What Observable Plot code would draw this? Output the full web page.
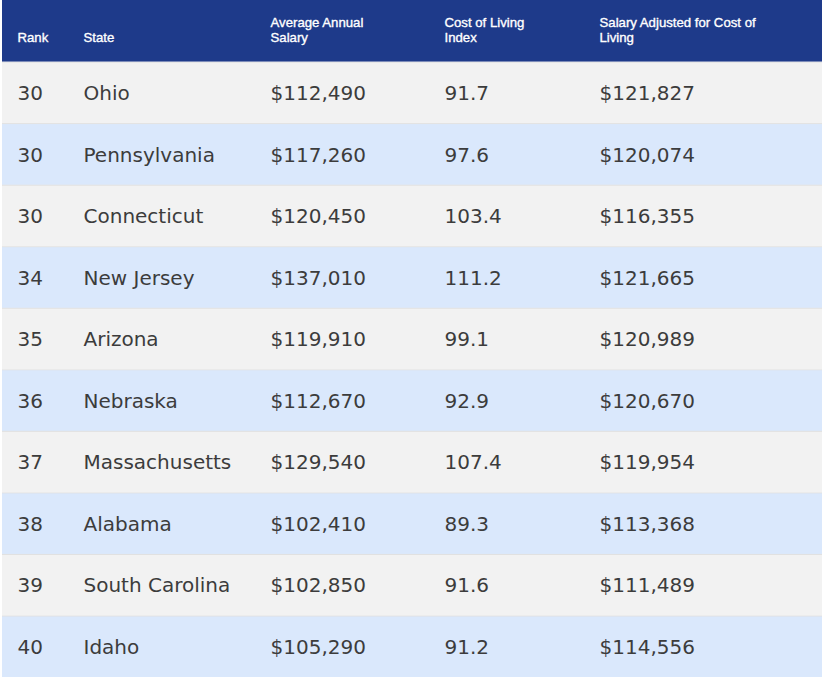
<!DOCTYPE html>
<html><head><meta charset="utf-8">
<script src="https://cdn.jsdelivr.net/npm/d3@7"></script>
<script src="https://cdn.jsdelivr.net/npm/@observablehq/plot@0.6"></script>
<style>html,body{margin:0;padding:0;background:#fff}svg{display:block}</style>
</head><body><div id="chart"></div>
<script>
// ---- data ----
const headers = ["Rank", "State", "Average Annual\nSalary", "Cost of Living\nIndex", "Salary Adjusted for Cost of\nLiving"];
const ranks = [30, 30, 30, 34, 35, 36, 37, 38, 39, 40];
const states = ["Ohio", "Pennsylvania", "Connecticut", "New Jersey", "Arizona", "Nebraska", "Massachusetts", "Alabama", "South Carolina", "Idaho"];
const avgSalary = [112490, 117260, 120450, 137010, 119910, 112670, 129540, 102410, 102850, 105290];
const costIndex = [91.7, 97.6, 103.4, 111.2, 99.1, 92.9, 107.4, 89.3, 91.6, 91.2];
const adjSalary = [121827, 120074, 116355, 121665, 120989, 120670, 119954, 113368, 111489, 114556];

// ---- table layout ----
const colWidths = [66, 187, 174, 155, 238];
const colStart = d3.cumsum([0, ...colWidths.slice(0, -1)]);
const cellPad = 15;
const money = v => "$" + d3.format(",")(v);

const rowKeys = ["header", ...ranks.map((_, i) => `r${i}`)];
const bodyRows = ranks.map((_, i) => ({row: `r${i}`, fill: i % 2 ? "#dae8fc" : "#f2f2f2"}));
const headerCells = headers.map((h, j) => ({row: "header", col: j, text: h}));
const bodyCells = ranks.flatMap((r, i) => {
  const row = `r${i}`;
  return [String(r), states[i], money(avgSalary[i]), d3.format(".1f")(costIndex[i]), money(adjSalary[i])]
    .map((text, j) => ({row, col: j, text}));
});

const chart = Plot.plot({
  width: 824,
  height: 681,
  marginLeft: 2,
  marginRight: 2,
  marginTop: 0,
  marginBottom: 4,
  x: {type: "linear", domain: [0, d3.sum(colWidths)], axis: null},
  y: {type: "band", domain: rowKeys, padding: 0, round: false, axis: null},
  color: {type: "identity"},
  marks: [
    Plot.cell(bodyRows, {y: "row", fill: "#e0e0e0"}),
    Plot.cell(bodyRows, {y: "row", fill: "fill", insetTop: 1}),
    Plot.cell(["header"], {y: d => d, fill: "#1e3a8a"}),
    Plot.text(headerCells, {
      x: d => colStart[d.col] + cellPad, y: "row", text: "text",
      textAnchor: "start", lineAnchor: "bottom", lineHeight: 1.13,
      fill: "#ffffff", stroke: "#ffffff", strokeWidth: 0.35,
      fontSize: 13.2, fontFamily: "Liberation Sans, Arial, sans-serif", dy: 10.3
    }),
    Plot.text(bodyCells, {
      x: d => colStart[d.col] + cellPad, y: "row", text: "text",
      textAnchor: "start", lineAnchor: "middle",
      fill: "#3c3c3c", fontSize: 20, fontFamily: "DejaVu Sans, Verdana, sans-serif", dy: 0.8
    })
  ]
});
document.getElementById("chart").append(chart);
</script>
</body></html>
